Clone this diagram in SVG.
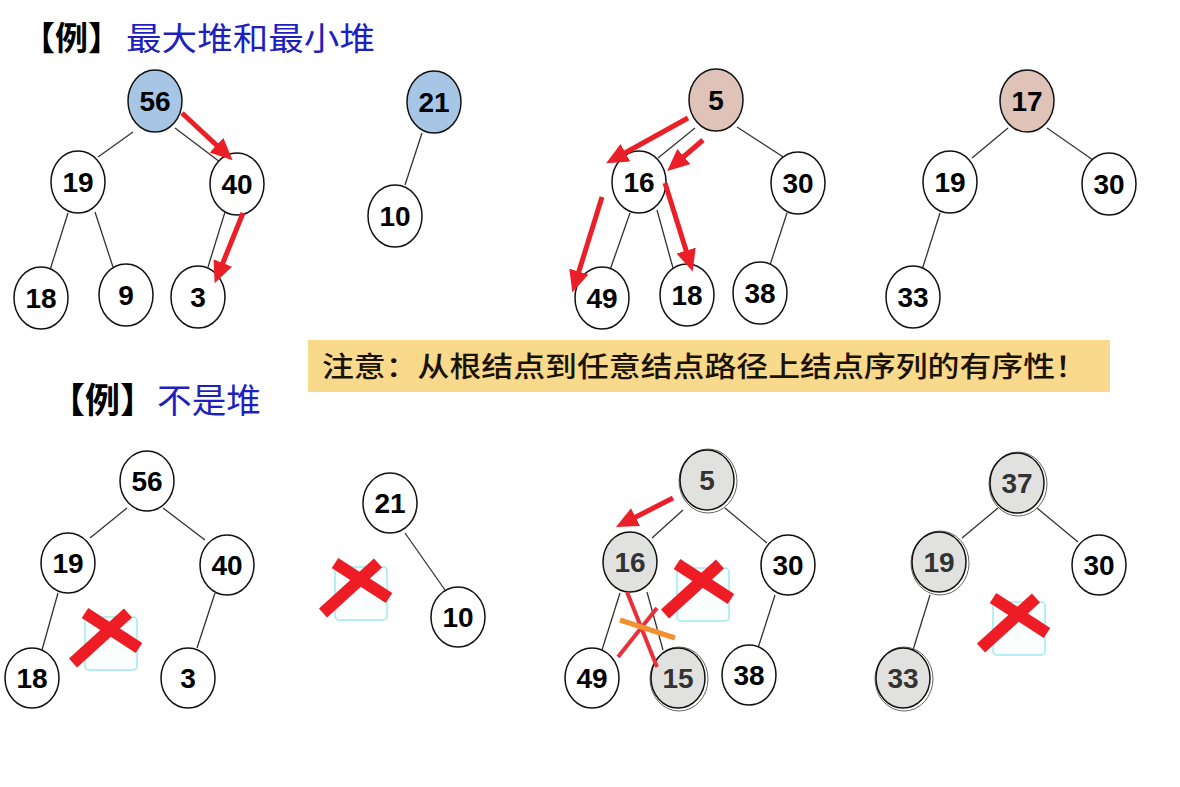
<svg xmlns="http://www.w3.org/2000/svg" width="1180" height="787" viewBox="0 0 1180 787">
<style>
.e{stroke:#333;stroke-width:1.3;fill:none}
.n{fill:#fff;stroke:#111;stroke-width:1.5}
.blue{fill:#a7c5e5}
.pink{fill:#dfc2b8}
.gray{fill:#e1e2df}
.ring{fill:none;stroke:#666;stroke-width:1}
.t{font-family:"Liberation Sans",Arial,sans-serif;font-weight:bold;font-size:28px;text-anchor:middle;fill:#000}
.tg{fill:#333}
.arr{stroke:#ea1f27;stroke-width:5;fill:none;marker-end:url(#ah)}
.cj{font-family:"Noto Sans CJK SC",sans-serif}
</style>
<defs>
<marker id="ah" markerUnits="userSpaceOnUse" markerWidth="24" markerHeight="22" refX="13" refY="10" orient="auto" viewBox="0 0 24 22">
<path d="M0,0 L22,10 L0,20 Z" fill="#ea1f27"/>
</marker>
<g id="bigx">
<rect x="0" y="0" width="52" height="53" rx="4" fill="#fbfefe" stroke="#9eeaf0" stroke-width="1.5"/>
<line x1="0" y1="-4" x2="54" y2="31" stroke="#ee1c24" stroke-width="12"/>
<line x1="-12" y1="46" x2="43" y2="-4" stroke="#ee1c24" stroke-width="12"/>
</g>
</defs>
<rect width="1180" height="787" fill="#fff"/>

<!-- titles -->
<text class="cj" x="22" y="50" font-size="33" font-weight="bold" fill="#000">【例】</text>
<text class="cj" x="126" y="50" font-size="32" fill="#1f1fc0" textLength="249" lengthAdjust="spacingAndGlyphs">最大堆和最小堆</text>
<text class="cj" x="50" y="413" font-size="35" font-weight="bold" fill="#000">【例】</text>
<text class="cj" x="157" y="413" font-size="34" fill="#1f1fc0" textLength="104" lengthAdjust="spacingAndGlyphs">不是堆</text>

<!-- note -->
<g id="note">
<rect x="308" y="340" width="802" height="52" fill="#f9d98c"/>
<text class="cj" x="322" y="377" font-size="28" font-weight="500" fill="#1a1200" textLength="765" lengthAdjust="spacingAndGlyphs">注意：从根结点到任意结点路径上结点序列的有序性！</text>
</g>

<!-- connectors -->
<g id="connectors">
<line class="e" x1="133" y1="132" x2="98" y2="157"/>
<line class="e" x1="175" y1="128" x2="220" y2="162"/>
<line class="e" x1="68" y1="213" x2="50" y2="270"/>
<line class="e" x1="95" y1="212" x2="113" y2="267"/>
<line class="e" x1="225" y1="212" x2="208" y2="267"/>
<line class="e" x1="422" y1="133" x2="405" y2="185"/>
<line class="e" x1="695" y1="128" x2="658" y2="158"/>
<line class="e" x1="737" y1="127" x2="788" y2="160"/>
<line class="e" x1="630" y1="213" x2="610" y2="270"/>
<line class="e" x1="657" y1="210" x2="673" y2="268"/>
<line class="e" x1="787" y1="213" x2="770" y2="265"/>
<line class="e" x1="1008" y1="128" x2="972" y2="158"/>
<line class="e" x1="1047" y1="128" x2="1093" y2="160"/>
<line class="e" x1="940" y1="213" x2="922" y2="270"/>
<line class="e" x1="127" y1="508" x2="90" y2="538"/>
<line class="e" x1="163" y1="508" x2="205" y2="540"/>
<line class="e" x1="58" y1="593" x2="42" y2="650"/>
<line class="e" x1="215" y1="593" x2="197" y2="648"/>
<line class="e" x1="405" y1="533" x2="445" y2="590"/>
<line class="e" x1="683" y1="510" x2="652" y2="538"/>
<line class="e" x1="725" y1="508" x2="767" y2="543"/>
<line class="e" x1="620" y1="593" x2="602" y2="650"/>
<line class="e" x1="647" y1="592" x2="663" y2="650"/>
<line class="e" x1="775" y1="595" x2="758" y2="648"/>
<line class="e" x1="998" y1="508" x2="962" y2="538"/>
<line class="e" x1="1037" y1="508" x2="1078" y2="542"/>
<line class="e" x1="930" y1="595" x2="913" y2="650"/>
</g>

<!-- top row nodes -->
<g id="n56"><ellipse class="n blue" cx="155" cy="101" rx="27" ry="31"/><text class="t" x="155" y="111">56</text></g>
<g id="n19a"><ellipse class="n" cx="78" cy="182" rx="27" ry="31"/><text class="t" x="78" y="192">19</text></g>
<g id="n40a"><ellipse class="n" cx="237" cy="184" rx="27" ry="31"/><text class="t" x="237" y="194">40</text></g>
<g id="n18a"><ellipse class="n" cx="41" cy="298" rx="27" ry="31"/><text class="t" x="41" y="308">18</text></g>
<g id="n9"><ellipse class="n" cx="126" cy="295" rx="27" ry="31"/><text class="t" x="126" y="305">9</text></g>
<g id="n3a"><ellipse class="n" cx="198" cy="297" rx="27" ry="31"/><text class="t" x="198" y="307">3</text></g>
<g id="n21a"><ellipse class="n blue" cx="434" cy="102" rx="27" ry="31"/><text class="t" x="434" y="112">21</text></g>
<g id="n10a"><ellipse class="n" cx="395" cy="216" rx="27" ry="31"/><text class="t" x="395" y="226">10</text></g>

<g id="n5a"><ellipse class="n pink" cx="716" cy="100" rx="27" ry="31"/><text class="t" x="716" y="110">5</text></g>
<g id="n16a"><ellipse class="n" cx="639" cy="182" rx="27" ry="31"/><text class="t" x="639" y="192">16</text></g>
<g id="n30a"><ellipse class="n" cx="798" cy="183" rx="27" ry="31"/><text class="t" x="798" y="193">30</text></g>
<g id="n49a"><ellipse class="n" cx="602" cy="298" rx="27" ry="31"/><text class="t" x="602" y="308">49</text></g>
<g id="n18b"><ellipse class="n" cx="687" cy="295" rx="27" ry="31"/><text class="t" x="687" y="305">18</text></g>
<g id="n38a"><ellipse class="n" cx="760" cy="293" rx="27" ry="31"/><text class="t" x="760" y="303">38</text></g>

<g id="n17"><ellipse class="n pink" cx="1027" cy="101" rx="27" ry="31"/><text class="t" x="1027" y="111">17</text></g>
<g id="n19b"><ellipse class="n" cx="950" cy="182" rx="27" ry="31"/><text class="t" x="950" y="192">19</text></g>
<g id="n30b"><ellipse class="n" cx="1109" cy="184" rx="27" ry="31"/><text class="t" x="1109" y="194">30</text></g>
<g id="n33a"><ellipse class="n" cx="913" cy="297" rx="27" ry="31"/><text class="t" x="913" y="307">33</text></g>

<!-- bottom row nodes -->
<g id="n56b"><ellipse class="n" cx="147" cy="481" rx="27" ry="30"/><text class="t" x="147" y="491">56</text></g>
<g id="n19c"><ellipse class="n" cx="68" cy="563" rx="27" ry="30"/><text class="t" x="68" y="573">19</text></g>
<g id="n40b"><ellipse class="n" cx="227" cy="565" rx="27" ry="30"/><text class="t" x="227" y="575">40</text></g>
<g id="n18c"><ellipse class="n" cx="32" cy="678" rx="27" ry="30"/><text class="t" x="32" y="688">18</text></g>
<g id="n3b"><ellipse class="n" cx="188" cy="678" rx="27" ry="30"/><text class="t" x="188" y="688">3</text></g>
<g id="n21b"><ellipse class="n" cx="390" cy="503" rx="27" ry="30"/><text class="t" x="390" y="513">21</text></g>
<g id="n10b"><ellipse class="n" cx="458" cy="617" rx="27" ry="30"/><text class="t" x="458" y="627">10</text></g>

<g id="n5b"><ellipse class="ring" cx="708" cy="481" rx="29" ry="32"/><ellipse class="n gray" cx="707" cy="480" rx="27" ry="30"/><text class="t tg" x="707" y="490">5</text></g>
<g id="n16b"><ellipse class="n gray" cx="630" cy="562" rx="27" ry="30"/><text class="t tg" x="630" y="572">16</text></g>
<g id="n30c"><ellipse class="n" cx="788" cy="565" rx="27" ry="30"/><text class="t" x="788" y="575">30</text></g>
<g id="n49b"><ellipse class="n" cx="592" cy="678" rx="27" ry="30"/><text class="t" x="592" y="688">49</text></g>
<g id="n15"><ellipse class="ring" cx="679" cy="679" rx="29" ry="32"/><ellipse class="n gray" cx="678" cy="678" rx="27" ry="30"/><text class="t tg" x="678" y="688">15</text></g>
<g id="n38b"><ellipse class="n" cx="749" cy="675" rx="27" ry="30"/><text class="t" x="749" y="685">38</text></g>

<g id="n37"><ellipse class="ring" cx="1018" cy="484" rx="29" ry="32"/><ellipse class="n gray" cx="1017" cy="483" rx="27" ry="30"/><text class="t tg" x="1017" y="493">37</text></g>
<g id="n19d"><ellipse class="ring" cx="940" cy="563" rx="29" ry="32"/><ellipse class="n gray" cx="939" cy="562" rx="27" ry="30"/><text class="t tg" x="939" y="572">19</text></g>
<g id="n30d"><ellipse class="n" cx="1099" cy="565" rx="27" ry="30"/><text class="t" x="1099" y="575">30</text></g>
<g id="n33b"><ellipse class="ring" cx="904" cy="679" rx="29" ry="32"/><ellipse class="n gray" cx="903" cy="678" rx="27" ry="30"/><text class="t tg" x="903" y="688">33</text></g>

<!-- red arrows -->
<g id="arrows">
<line class="arr" x1="182" y1="113" x2="226" y2="154"/>
<line class="arr" x1="243" y1="213" x2="218" y2="275"/>
<line class="arr" x1="688" y1="118" x2="614" y2="159"/>
<line class="arr" x1="703" y1="140" x2="674" y2="165"/>
<line class="arr" x1="602" y1="197" x2="575" y2="284"/>
<line class="arr" x1="665" y1="183" x2="690" y2="263"/>
<line class="arr" x1="673" y1="498" x2="624" y2="523"/>
</g>

<!-- crosses -->
<g id="marks">
<use href="#bigx" x="85" y="617"/>
<use href="#bigx" x="335" y="567"/>
<use href="#bigx" x="677" y="568"/>
<use href="#bigx" x="993" y="602"/>
<line x1="627" y1="592" x2="657" y2="667" stroke="#e8303a" stroke-width="4"/>
<line x1="618" y1="657" x2="657" y2="608" stroke="#e8303a" stroke-width="4"/>
<line x1="620" y1="620" x2="675" y2="638" stroke="#f39130" stroke-width="5"/>
</g>
</svg>
